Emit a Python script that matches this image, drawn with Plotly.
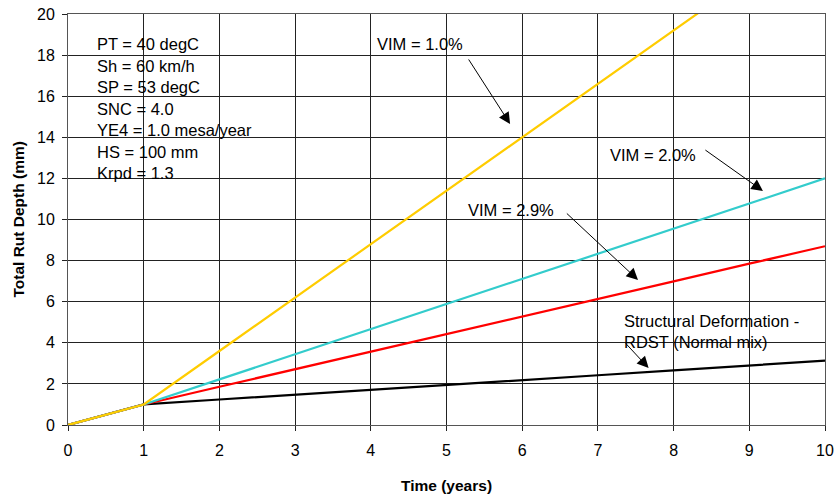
import plotly.graph_objects as go

years = [0, 1, 2, 3, 4, 5, 6, 7, 8, 9, 10]
rdst_normal = [0, 1, 1.24, 1.47, 1.71, 1.95, 2.18, 2.42, 2.66, 2.89, 3.13]
vim_2_9 = [0, 1, 1.86, 2.71, 3.57, 4.42, 5.28, 6.14, 6.99, 7.85, 8.7]
vim_2_0 = [0, 1, 2.22, 3.44, 4.67, 5.89, 7.11, 8.33, 9.56, 10.78, 12.0]
vim_1_0 = [0, 1, 3.6, 6.2, 8.8, 11.4, 14.0, 16.6, 19.2, 21.8, 24.4]

x_ticks = [0, 1, 2, 3, 4, 5, 6, 7, 8, 9, 10]
y_ticks = [0, 2, 4, 6, 8, 10, 12, 14, 16, 18, 20]

params = ["PT = 40 degC", "Sh = 60 km/h", "SP = 53 degC", "SNC = 4.0",
          "YE4 = 1.0 mesa/year", "HS = 100 mm", "Krpd = 1.3"]

FONT = "Liberation Sans, Arial, sans-serif"
TXT = 16.5

fig = go.Figure()
series = [
    ("Structural Deformation - RDST (Normal mix)", rdst_normal, "#000000"),
    ("VIM = 2.9%", vim_2_9, "#FF0000"),
    ("VIM = 2.0%", vim_2_0, "#33CCCC"),
    ("VIM = 1.0%", vim_1_0, "#FFCC00"),
]
for name, ys, col in series:
    fig.add_trace(go.Scatter(x=years, y=ys, mode="lines", name=name,
                             line=dict(color=col, width=2.2), showlegend=False))

# arrow annotations (tail -> head in data coords)
arrows = [
    (5.28, 17.86, 5.84, 14.65),
    (8.40, 13.43, 9.18, 11.39),
    (6.57, 10.36, 7.53, 7.06),
    (7.35, 4.04, 7.67, 2.77),
]
for ax_, ay_, hx, hy in arrows:
    fig.add_annotation(x=hx, y=hy, ax=ax_, ay=ay_, axref="x", ayref="y",
                       xref="x", yref="y", text="", showarrow=True,
                       arrowhead=2, arrowsize=2.3, arrowwidth=1, arrowcolor="#000")

labels = [
    ("VIM = 1.0%", 4.06, 18.54),
    ("VIM = 2.0%", 7.13, 13.14),
    ("VIM = 2.9%", 5.26, 10.46),
    ("Structural Deformation -<br>RDST (Normal mix)", 7.32, 4.57),
]
for t, x, y in labels:
    fig.add_annotation(x=x, y=y, xref="x", yref="y", text=t, showarrow=False,
                       xanchor="left", yanchor="middle", align="left",
                       font=dict(family=FONT, size=TXT, color="#000"))

for i, t in enumerate(params):
    fig.add_annotation(x=0.36, y=18.54 - i * 1.05, xref="x", yref="y", text=t,
                       showarrow=False, xanchor="left", yanchor="middle",
                       font=dict(family=FONT, size=TXT, color="#000"))

# axis titles
fig.add_annotation(x=0.5, y=-0.146, xref="paper", yref="paper",
                   text="<b>Time (years)</b>", showarrow=False,
                   xanchor="center", yanchor="middle",
                   font=dict(family=FONT, size=15.5, color="#000"))
fig.add_annotation(x=-0.066, y=0.5, xref="paper", yref="paper",
                   text="<b>Total Rut Depth (mm)</b>", showarrow=False, textangle=-90,
                   xanchor="center", yanchor="middle",
                   font=dict(family=FONT, size=15.5, color="#000"))

fig.update_layout(
    width=835, height=497,
    margin=dict(l=68, r=10, t=14, b=72),
    paper_bgcolor="white", plot_bgcolor="white",
    font=dict(family=FONT, size=16, color="#000"),
)
fig.update_xaxes(range=[0, 10], tickvals=x_ticks, showgrid=True, gridcolor="#222",
                 gridwidth=1, showline=True, linecolor="#555", linewidth=1, mirror=True,
                 ticks="outside", ticklen=5, tickcolor="#222", zeroline=False,
                 automargin=False, ticklabelstandoff=6,
                 tickfont=dict(size=16))
fig.update_yaxes(range=[0, 20], tickvals=y_ticks, showgrid=True, gridcolor="#222",
                 gridwidth=1, showline=True, linecolor="#555", linewidth=1, mirror=True,
                 ticks="outside", ticklen=5, tickcolor="#222", zeroline=False,
                 automargin=False, ticklabelstandoff=4,
                 tickfont=dict(size=16))

# remove the browser's default 8px body margin so the figure fills the window exactly
fig.write_html("out.html", config={"displayModeBar": False},
               post_script="document.body.style.margin='0';document.body.style.overflow='hidden';")
